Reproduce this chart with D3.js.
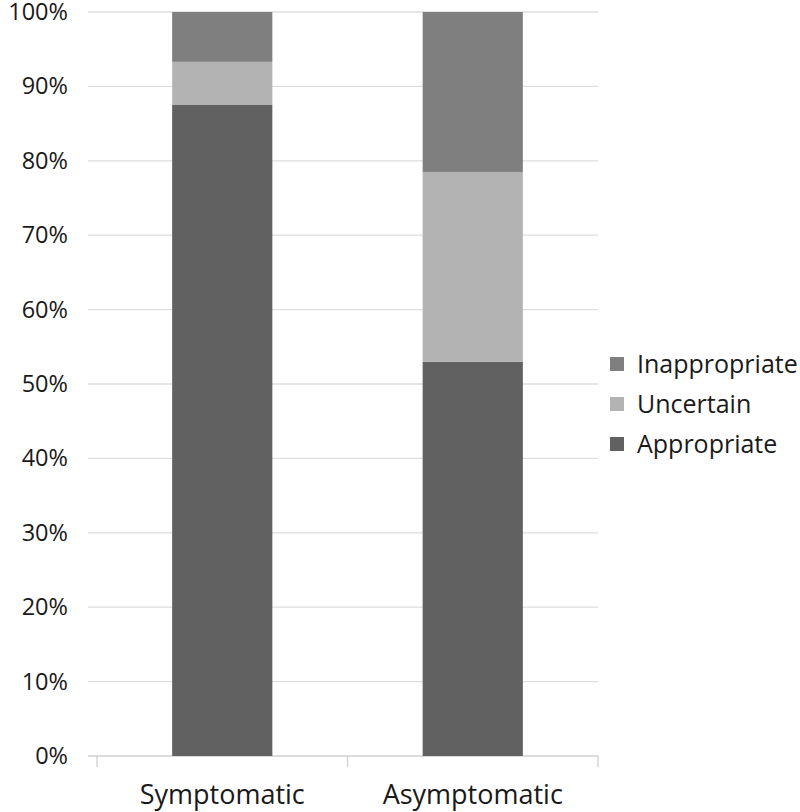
<!DOCTYPE html>
<html>
<head>
<meta charset="utf-8">
<script src="https://cdn.jsdelivr.net/npm/d3@7"></script>
<style>
  body { margin: 0; background: #fff; }
  text { font-family: "Open Sans", sans-serif; fill: #1a1a1a; }
</style>
</head>
<body>
<div id="wrapper"></div>
<script>
// data
const categories = ["Symptomatic", "Asymptomatic"];
const seriesNames = ["Appropriate", "Uncertain", "Inappropriate"];
const appropriate = [87.5, 53.0];
const uncertain = [5.8, 25.5];
const inappropriate = [6.7, 21.5];
const yTicks = [0, 10, 20, 30, 40, 50, 60, 70, 80, 90, 100];
const colors = { Appropriate: "#616161", Uncertain: "#b3b3b3", Inappropriate: "#7f7f7f" };

const rows = categories.map((c, i) => ({
  category: c,
  Appropriate: appropriate[i],
  Uncertain: uncertain[i],
  Inappropriate: inappropriate[i]
}));

// dimensions
let dimensions = {
  width: 800,
  height: 812,
  margin: { top: 12, right: 202, bottom: 56, left: 97 }
};
dimensions.boundedWidth = dimensions.width - dimensions.margin.left - dimensions.margin.right;
dimensions.boundedHeight = dimensions.height - dimensions.margin.top - dimensions.margin.bottom;

const wrapper = d3.select("#wrapper")
  .append("svg")
  .attr("width", dimensions.width)
  .attr("height", dimensions.height);

const bounds = wrapper.append("g")
  .attr("transform", `translate(${dimensions.margin.left},${dimensions.margin.top})`);

// scales
const xScale = d3.scaleBand()
  .domain(categories)
  .range([0, dimensions.boundedWidth])
  .paddingInner(0.6)
  .paddingOuter(0.3);

const yScale = d3.scaleLinear()
  .domain([0, 100])
  .range([dimensions.boundedHeight, 0]);

// gridlines
bounds.append("g")
  .selectAll("line")
  .data(yTicks)
  .join("line")
  .attr("x1", -9)
  .attr("x2", dimensions.boundedWidth)
  .attr("y1", d => yScale(d))
  .attr("y2", d => yScale(d))
  .attr("stroke", d => d === 0 ? "#d0d0d0" : "#dedede")
  .attr("stroke-width", 1.3);

// category tick marks
const step = dimensions.boundedWidth / categories.length;
bounds.append("g")
  .selectAll("line")
  .data(d3.range(categories.length + 1))
  .join("line")
  .attr("x1", d => d * step)
  .attr("x2", d => d * step)
  .attr("y1", dimensions.boundedHeight)
  .attr("y2", dimensions.boundedHeight + 11)
  .attr("stroke", "#d0d0d0")
  .attr("stroke-width", 1.3);

// stacked bars
const stack = d3.stack().keys(seriesNames);
const stacked = stack(rows);

bounds.append("g")
  .selectAll("g")
  .data(stacked)
  .join("g")
  .attr("fill", d => colors[d.key])
  .selectAll("rect")
  .data(d => d)
  .join("rect")
  .attr("x", d => xScale(d.data.category))
  .attr("width", xScale.bandwidth())
  .attr("y", d => yScale(d[1]))
  .attr("height", d => yScale(d[0]) - yScale(d[1]));

// y axis labels
const yAxisGenerator = d3.axisLeft(yScale)
  .tickValues(yTicks)
  .tickFormat(d => d + "%")
  .tickSize(0)
  .tickPadding(29);

const yAxis = bounds.append("g").call(yAxisGenerator);
yAxis.select(".domain").remove();
yAxis.selectAll("text")
  .style("font-family", "'Open Sans', sans-serif")
  .style("font-size", "23.5px")
  .attr("fill", "#1a1a1a");

// x axis labels
const xAxisGenerator = d3.axisBottom(xScale).tickSize(0).tickPadding(29);
const xAxis = bounds.append("g")
  .attr("transform", `translate(0,${dimensions.boundedHeight})`)
  .call(xAxisGenerator);
xAxis.select(".domain").remove();
xAxis.selectAll("text")
  .style("font-family", "'Open Sans', sans-serif")
  .style("font-size", "27px")
  .attr("fill", "#1a1a1a");

// legend
const legendItems = seriesNames.slice().reverse();
const legend = wrapper.append("g")
  .attr("transform", "translate(610,364)");

const legendRow = legend.selectAll("g")
  .data(legendItems)
  .join("g")
  .attr("transform", (d, i) => `translate(0,${i * 40})`);

legendRow.append("rect")
  .attr("x", 0)
  .attr("y", -7)
  .attr("width", 14)
  .attr("height", 14)
  .attr("fill", d => colors[d]);

legendRow.append("text")
  .attr("x", 27)
  .attr("dy", "0.35em")
  .style("font-size", "25px")
  .text(d => d);
</script>
</body>
</html>
